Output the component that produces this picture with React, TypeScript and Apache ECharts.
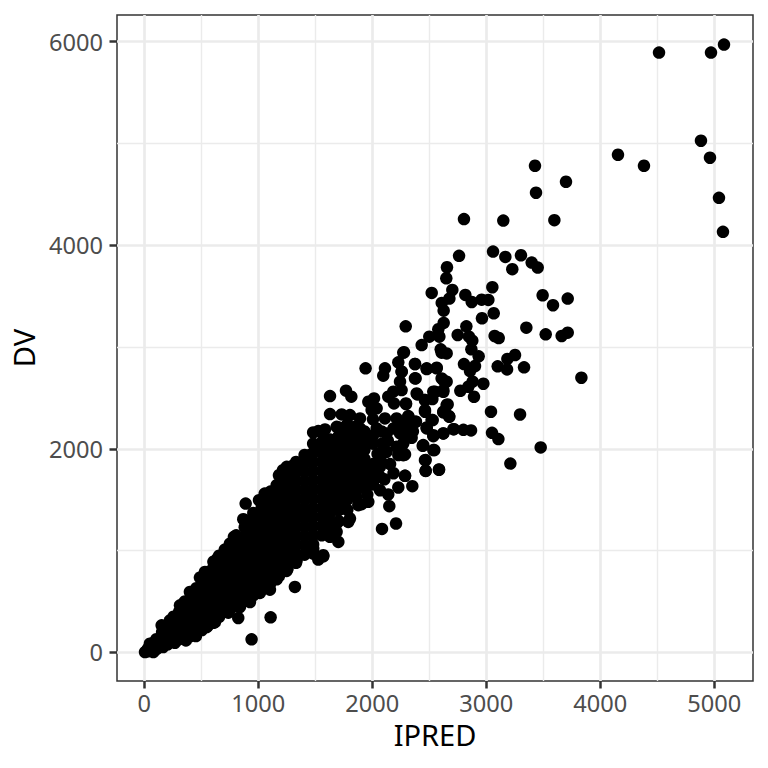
import React, { useEffect, useRef } from "react";
import * as echarts from "echarts";

const xTicks = [0, 1000, 2000, 3000, 4000, 5000];
const yTicks = [0, 2000, 4000, 6000];
const xMinor = [500, 1500, 2500, 3500, 4500];
const yMinor = [1000, 3000, 5000];

const farPoints = [
  [4516, 5892], [4972, 5892], [5086, 5970], [4884, 5026], [4963, 4859], [4156, 4888], [4384, 4780],
  [5042, 4465], [5077, 4131], [3428, 4780], [3437, 4515], [3700, 4623],
];

const upperPoints = [
  [2805, 4256], [3150, 4242], [3598, 4246], [2762, 3895], [3060, 3937], [3168, 3885], [3305, 3901], [3399, 3829],
  [3452, 3780], [3229, 3764], [2656, 3783], [2650, 3675], [3054, 3587], [2522, 3531], [2703, 3560], [2677, 3475],
  [2610, 3433], [2627, 3357], [2817, 3511], [2873, 3442], [2960, 3465], [3019, 3462], [3066, 3331], [2963, 3282],
  [3495, 3508], [3586, 3410], [3715, 3475], [2294, 3203], [2627, 3236], [2580, 3174], [2589, 3101], [2501, 3101],
  [2434, 3019], [2826, 3203], [2750, 3118], [2849, 3101], [2878, 3062], [2870, 2977], [2934, 2908], [3074, 3108],
  [3110, 3088], [3352, 3190], [3522, 3124], [3662, 3108], [3715, 3141], [2273, 2944], [2601, 2977], [2609, 2944],
  [2653, 2937], [3253, 2921], [3186, 2882], [3101, 2810], [3183, 2780], [3332, 2800], [3835, 2698], [2376, 2832],
  [2259, 2757], [2381, 2691], [2478, 2783], [2566, 2796], [2609, 2691], [2653, 2659], [2805, 2832], [2858, 2763],
  [2902, 2813], [2881, 2659], [2975, 2639], [2773, 2570], [2893, 2511], [2843, 2609], [2624, 2560], [2551, 2560],
  [2396, 2534], [2297, 2439], [2463, 2478], [2528, 2488], [2662, 2436], [2463, 2364], [2624, 2357], [2677, 2314],
  [3042, 2364], [3297, 2337], [2531, 2282], [2317, 2321], [2381, 2265], [2267, 2249], [2478, 2200], [2536, 2124],
  [2624, 2151], [2712, 2193], [2800, 2186], [2867, 2180], [3051, 2157], [3107, 2095], [3478, 2013], [3212, 1855],
  [2346, 2108], [2273, 2151], [2443, 2029], [2536, 1987], [2273, 1937], [2463, 1888], [2469, 1783], [2586, 1793],
  [2288, 1734],
];

const midPoints = [
  [1942, 2790], [2112, 2790], [2097, 2718], [2279, 2948], [2229, 2849], [2258, 2757], [2244, 2659], [2375, 2833],
  [2375, 2692], [2478, 2790], [2565, 2790], [2624, 2675], [2258, 2577], [2185, 2561], [2141, 2512], [2191, 2446],
  [2296, 2446], [2390, 2544], [2536, 2561], [2624, 2577], [2463, 2479], [2463, 2380], [2653, 2430], [2624, 2364],
  [2674, 2321], [2521, 2282], [2478, 2210], [2536, 2134], [2624, 2151], [2717, 2193], [1630, 2518], [1770, 2571],
  [1817, 2512], [1966, 2462], [2016, 2495], [1630, 2341], [1732, 2338], [1805, 2331], [1893, 2298], [1995, 2380],
  [2039, 2397], [2112, 2298], [2214, 2298], [2317, 2315], [2384, 2266], [1527, 2174], [1586, 2190], [1571, 2085],
  [1556, 1993], [1688, 2216], [1703, 2118], [1805, 2167], [1893, 2200], [2039, 2200], [2127, 2151], [2244, 2151],
  [2331, 2118], [2273, 2052], [2214, 2020], [2127, 1971], [2229, 1938], [2288, 1944], [2448, 2036], [2545, 1987],
  [2469, 1889], [2469, 1784], [2586, 1797], [2068, 1823], [2068, 1725], [2288, 1734], [2352, 1633], [2229, 1620],
  [2141, 1551], [2068, 1593], [2150, 1436], [2209, 1266], [2086, 1213], [1966, 1479], [1907, 1456], [1937, 1626],
  [1849, 1577], [1805, 1315], [1790, 1282], [1688, 1266], [1703, 1085], [1747, 1495], [1703, 1397], [1483, 1020],
  [1571, 954], [1688, 1184], [1957, 1550], [2007, 1650], [2047, 1950], [2087, 2050], [2157, 1850], [2187, 1760],
  [2107, 1700], [1907, 1620], [2137, 2080], [2257, 2020], [2187, 2200], [2247, 2230], [2307, 2200], [2357, 2170],
];

const edgePoints = [
  [890, 1462], [1007, 1495], [869, 1308], [986, 1331], [787, 1135], [752, 1069], [641, 921], [533, 790], [489, 735],
  [401, 594], [314, 462], [226, 315], [153, 266], [50, 85], [7, 3], [1162, 1643], [1103, 1462], [942, 128], [1109, 344],
  [1322, 643], [825, 338], [738, 390], [621, 298], [548, 249], [454, 161], [366, 118], [270, 95], [167, 53], [80, 3],
  [1103, 616], [1015, 584], [928, 495], [840, 446], [1249, 800], [1162, 718], [1337, 905], [1483, 971], [1527, 912],
  [1571, 944], [1629, 1135], [1878, 1446], [1454, 1938], [1217, 1790], [1297, 1830], [1057, 1560], [1250, 1823], [1381, 1839],
  [25, 20], [35, 40], [60, 45], [75, 90], [95, 55], [115, 120], [130, 75], [30, 10], [105, 30], [130, 50], [185, 95],
];

const coreIpred = [
  107, 157, 207, 257, 307, 357, 407, 457, 507, 557, 607, 657, 707, 757, 807, 882, 957, 1032, 1107, 1182, 1257, 1332,
  1407, 1482, 1557, 1632, 1707, 1782, 1857, 1932, 2007, 2082,
];
const coreDv = [
  [80, 130], [60, 130, 200], [80, 170, 270], [110, 190, 270, 350], [130, 220, 310, 400], [140, 230, 320, 410, 500],
  [160, 250, 340, 430, 520, 590], [180, 270, 360, 450, 540, 630], [220, 310, 400, 490, 580, 670],
  [260, 350, 440, 530, 620, 710, 790], [290, 380, 470, 560, 650, 740, 830, 890],
  [350, 440, 530, 620, 710, 800, 890, 950], [400, 490, 580, 670, 760, 850, 940, 1010],
  [430, 520, 610, 700, 790, 880, 970, 1060], [460, 550, 640, 730, 820, 910, 1000, 1090, 1150],
  [510, 600, 690, 780, 870, 960, 1050, 1140, 1230, 1300], [560, 650, 740, 830, 920, 1010, 1100, 1190, 1280, 1370],
  [620, 710, 800, 890, 980, 1070, 1160, 1250, 1340, 1430], [680, 770, 860, 950, 1040, 1130, 1220, 1310, 1400, 1490, 1580],
  [750, 840, 930, 1020, 1110, 1200, 1290, 1380, 1470, 1560, 1650, 1740],
  [820, 910, 1000, 1090, 1180, 1270, 1360, 1450, 1540, 1630, 1720, 1810],
  [880, 970, 1060, 1150, 1240, 1330, 1420, 1510, 1600, 1690, 1780, 1870],
  [960, 1050, 1140, 1230, 1320, 1410, 1500, 1590, 1680, 1770, 1860, 1940],
  [1060, 1150, 1240, 1330, 1420, 1510, 1600, 1690, 1780, 1870, 1960, 2050, 2160],
  [1150, 1240, 1330, 1420, 1510, 1600, 1690, 1780, 1870, 1960, 2060],
  [1180, 1280, 1370, 1460, 1550, 1640, 1730, 1820, 1910, 2000, 2090],
  [1290, 1400, 1490, 1580, 1670, 1760, 1850, 1940, 2030, 2120, 2210],
  [1400, 1500, 1600, 1700, 1790, 1880, 1970, 2060, 2150, 2240],
  [1530, 1650, 1750, 1850, 1950, 2040, 2130, 2220], [1700, 1800, 1900, 1990, 2080, 2170],
  [1750, 1850, 2050, 2130, 2290], [1870, 1960, 2170],
];

const corePoints = coreIpred.flatMap((x, i) => coreDv[i].map((y) => [x, y]));
const points = [...corePoints, ...edgePoints, ...midPoints, ...upperPoints, ...farPoints];

const font = "'Noto Sans', sans-serif";

export default function App() {
  const ref = useRef<HTMLDivElement>(null);
  useEffect(() => {
    const chart = echarts.init(ref.current!, undefined, { renderer: "svg" });
    const tick = { show: true, length: 7.5, lineStyle: { color: "#333333", width: 2.5 } };
    const major = { show: true, lineStyle: { color: "#ebebeb", width: 2.7 } };
    const label = { color: "#4d4d4d", fontSize: 23.6, fontFamily: font };
    const title = { color: "#000000", fontSize: 29, fontFamily: font };
    chart.setOption({
      animation: false,
      backgroundColor: "#ffffff",
      grid: { left: 117, top: 15, width: 636, height: 666, show: true, borderColor: "#333333", borderWidth: 1.5, backgroundColor: "transparent" },
      xAxis: {
        type: "value", min: -238.6, max: 5340.4,
        name: "IPRED", nameLocation: "middle", nameGap: 39, nameTextStyle: title,
        axisLine: { show: false, onZero: false }, axisTick: { ...tick, customValues: xTicks },
        axisLabel: { ...label, margin: 10, customValues: xTicks, formatter: (v: number) => String(v) },
        splitLine: major,
      },
      yAxis: {
        type: "value", min: -281, max: 6261,
        name: "DV", nameLocation: "middle", nameGap: 78, nameTextStyle: title,
        axisLine: { show: false, onZero: false }, axisTick: { ...tick, customValues: yTicks },
        axisLabel: { ...label, margin: 14, customValues: yTicks, formatter: (v: number) => String(v) },
        splitLine: major,
      },
      series: [
        {
          type: "scatter", data: [], z: 1, silent: true,
          markLine: {
            silent: true, symbol: "none", animation: false, label: { show: false },
            lineStyle: { color: "#ebebeb", width: 1.4, type: "solid" },
            data: [...xMinor.map((v) => ({ xAxis: v })), ...yMinor.map((v) => ({ yAxis: v }))],
          },
        },
        {
          type: "scatter", data: points, symbol: "circle", symbolSize: 12.5, z: 5,
          itemStyle: { color: "#000000", opacity: 1 },
        },
      ],
    });
    return () => chart.dispose();
  }, []);
  return <div ref={ref} style={{ position: "absolute", left: 0, top: 0, width: 768, height: 768 }} />;
}
